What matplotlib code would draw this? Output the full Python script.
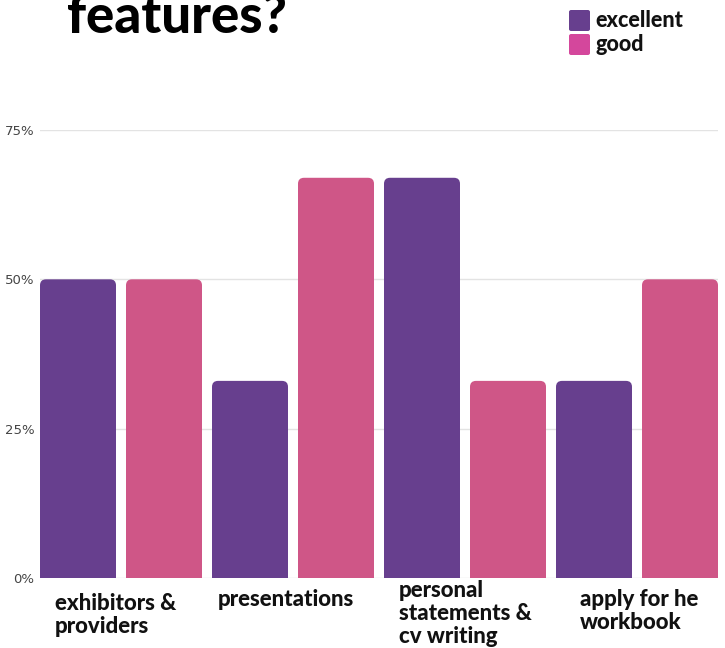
import matplotlib
matplotlib.use("Agg")
import matplotlib.pyplot as plt
from matplotlib.patches import FancyBboxPatch
import numpy as np

categories = ["exhibitors &\nproviders", "presentations", "personal\nstatements &\ncv writing", "apply for he\nworkbook"]
excellent = [50, 33, 67, 33]
good = [50, 67, 33, 50]
series_names = ["excellent", "good"]
yticks = [0, 25, 50, 75]
ytick_labels = ["0%", "25%", "50%", "75%"]

PURPLE = "#673f8e"
PINK = "#cf5687"

W, H = 725, 648
fig = plt.figure(figsize=(W / 100, H / 100), dpi=100)
ax = fig.add_axes([40 / W, 1 - 578 / H, 678 / W, 448 / H])

bw = 76 / 86
ax.set_xlim(-bw / 2, 7 + bw / 2)
ax.set_ylim(0, 75)

for g in range(len(categories)):
    for j, (vals, col) in enumerate([(excellent, PURPLE), (good, PINK)]):
        x = g * 2 + j
        v = vals[g]
        p = FancyBboxPatch((x - bw / 2, -5), bw, v + 5,
                           boxstyle="round,pad=0,rounding_size=0.07",
                           mutation_aspect=14.3, facecolor=col, edgecolor="none",
                           zorder=3)
        ax.add_patch(p)

ax.set_yticks(yticks)
ax.set_yticklabels(ytick_labels, fontsize=9.5, color="#444444", family="DejaVu Sans")
ax.tick_params(axis="y", length=0, pad=4)
ax.set_xticks([])
ax.grid(axis="y", color="#e3e3e3", linewidth=1, zorder=0)
for s in ax.spines.values():
    s.set_visible(False)

label_font = dict(family=["Lato", "DejaVu Sans"], fontweight="black", fontsize=16,
                  color="#111111", linespacing=1.12)
label_pos = [(55, 593), (218, 589), (399, 580), (580, 589)]
for cat, (lx, ly) in zip(categories, label_pos):
    fig.text(lx / W, 1 - ly / H, cat, ha="left", va="top", **label_font)

# Title (partially cut at top, as in the reference)
fig.text(67 / W, 1 - 33 / H, "features?", ha="left", va="baseline",
         family=["Lato", "DejaVu Sans"], fontweight="black", fontsize=38, color="#000000")

# Legend
leg_cols = [PURPLE, "#d4479c"]
for i, (name, col) in enumerate(zip(series_names, leg_cols)):
    y0 = 10 + i * 24
    fig.patches.append(FancyBboxPatch((569 / W, 1 - (y0 + 21) / H), 21 / W, 21 / H,
                                      boxstyle="round,pad=0,rounding_size=0.003",
                                      transform=fig.transFigure, facecolor=col,
                                      edgecolor="none", figure=fig))
    fig.text(595 / W, 1 - (y0 + 10.5) / H, name, ha="left", va="center",
             family=["Lato", "DejaVu Sans"], fontweight="black", fontsize=15.5, color="#111111")

fig.savefig("out.png", dpi=100)
